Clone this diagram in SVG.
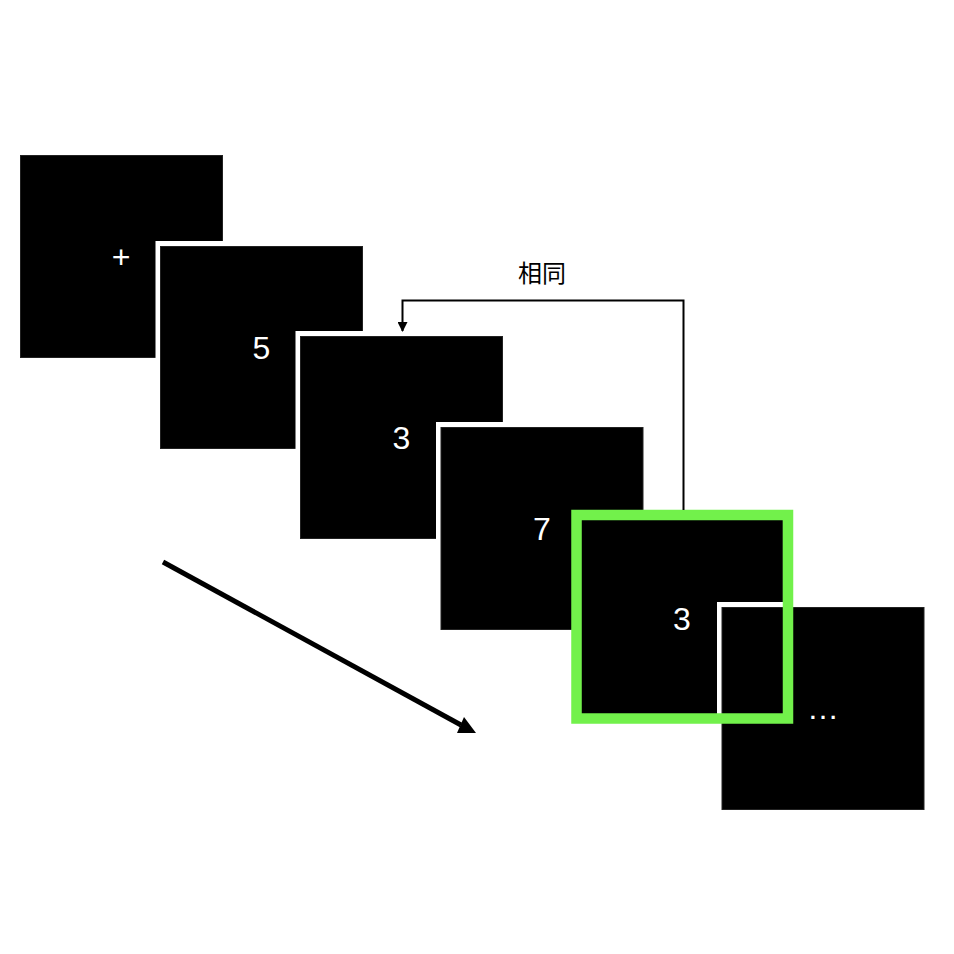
<svg xmlns="http://www.w3.org/2000/svg" width="954" height="954" viewBox="0 0 954 954">
<style>
.bd{fill:#ffffff}
.sq{fill:#000000;stroke:#222;stroke-width:1}
.t{fill:#ffffff;font-family:"Liberation Sans",Arial,sans-serif;font-size:32px;text-anchor:middle}
.lbl{fill:#000000;font-family:"Liberation Sans","Noto Sans CJK SC",sans-serif;font-size:24px;text-anchor:middle}
.c{fill:none;stroke:#000;stroke-width:2}
</style>
<defs>
<marker id="ah" viewBox="0 0 10 10" refX="9" refY="5" markerWidth="5" markerHeight="5" markerUnits="strokeWidth" orient="auto">
<path d="M0,0 L10,5 L0,10 Z" fill="#000"/>
</marker>
</defs>
<rect width="954" height="954" fill="#ffffff"/>
<g id="n1">
<rect class="sq" x="20.5" y="155.5" width="202" height="202"/>
<text class="t" x="121" y="268">+</text>
</g>
<g id="n2">
<rect class="bd" x="155.5" y="241" width="212" height="212"/>
<rect class="sq" x="160.5" y="246.5" width="202" height="202"/>
<text class="t" x="261.5" y="358.5">5</text>
</g>
<g id="n3">
<rect class="bd" x="295.5" y="331" width="212" height="212"/>
<rect class="sq" x="300.5" y="336.5" width="202" height="202"/>
<text class="t" x="401.5" y="448.5">3</text>
</g>
<g id="n4">
<rect class="bd" x="436" y="422" width="212" height="212"/>
<rect class="sq" x="441" y="427.5" width="202" height="202"/>
<text class="t" x="542" y="539.5">7</text>
</g>
<g id="n5">
<rect class="bd" x="576" y="512" width="212" height="212"/>
<rect class="sq" x="581" y="517.5" width="202" height="202"/>
<text class="t" x="682" y="629.5">3</text>
</g>
<g id="n6">
<rect class="bd" x="717" y="602" width="212" height="212"/>
<rect class="sq" x="722" y="607.5" width="202" height="202"/>
<text class="t" x="823" y="719">…</text>
</g>
<g id="highlight">
<rect x="576.5" y="515" width="211.5" height="203.5" fill="none" stroke="#72F14B" stroke-width="10.5"/>
</g>
<g id="connectors">
<path class="c" d="M683.5,510 V300.5 H402.5 V331" marker-end="url(#ah)"/>
<text class="lbl" x="542" y="282">相同</text>
<line x1="163" y1="562" x2="461" y2="725" stroke="#000" stroke-width="5"/>
<polygon points="476,733 457,733 464,717" fill="#000"/>
</g>
</svg>
